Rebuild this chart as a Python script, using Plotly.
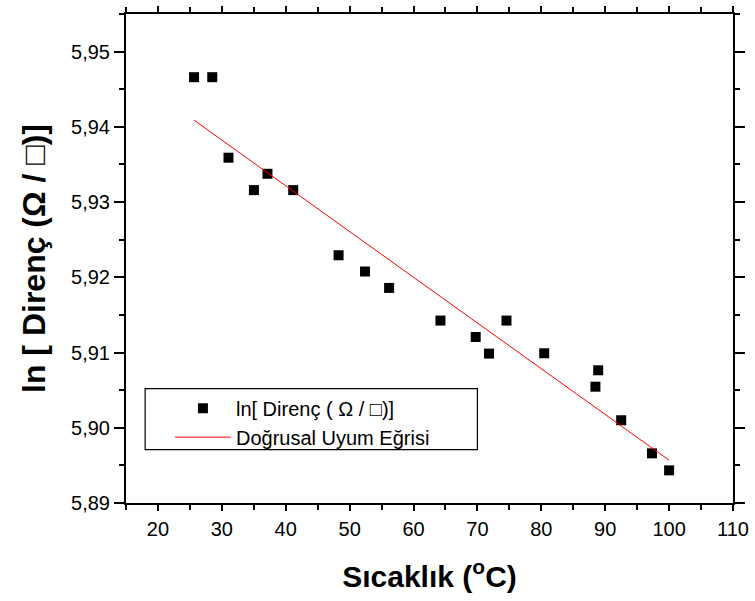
import numpy as np
import plotly.graph_objects as go

# Data
temperature = [25.65, 28.5, 31.04, 35.02, 37.14, 41.17, 48.27, 52.41, 56.18, 64.21,
               69.73, 71.81, 74.55, 80.45, 88.47, 88.9, 92.5, 97.32, 100.0]
ln_resistance = [5.9466, 5.9466, 5.9359, 5.93159, 5.93376, 5.93159, 5.92293, 5.92077,
                 5.91859, 5.91425, 5.91207, 5.90986, 5.91425, 5.9099, 5.90546, 5.90764,
                 5.9010, 5.8966, 5.89434]

series_name = "ln[ Direnç ( Ω / □)]"
fit_name = "Doğrusal Uyum Eğrisi"
x_title = "Sıcaklık (<sup>o</sup>C)"
y_title = "ln [ Direnç (Ω / □)]"

# linear fit
slope, intercept = np.polyfit(temperature, ln_resistance, 1)
fit_x = [min(temperature), max(temperature)]
fit_y = [slope * v + intercept for v in fit_x]

FONT = "Arial, Liberation Sans, sans-serif"

fig = go.Figure()
fig.add_trace(go.Scatter(
    x=temperature, y=ln_resistance, mode="markers", name=series_name,
    marker=dict(symbol="square", size=10, color="black"),
))
fig.add_trace(go.Scatter(
    x=fit_x, y=fit_y, mode="lines", name=fit_name,
    line=dict(color="red", width=1),
))

axis_common = dict(
    showline=True, linecolor="black", linewidth=2, mirror="ticks",
    ticks="outside", tickcolor="black", tickwidth=1.5,
    showgrid=False, zeroline=False,
    tickfont=dict(family=FONT, size=20, color="black"),
)

fig.update_xaxes(
    range=[15, 110], dtick=10, tick0=0, ticklen=6, ticklabelstandoff=1,
    minor=dict(dtick=5, ticklen=5, ticks="outside", tickcolor="black", tickwidth=1.5),
    title=dict(text=x_title, font=dict(family=FONT, size=30, color="black", weight="bold"), standoff=27),
    **axis_common,
)
fig.update_yaxes(
    range=[5.89, 5.955], dtick=0.01, tick0=5.89, tickformat=".2f", ticklen=10,
    minor=dict(dtick=0.005, ticklen=5, ticks="outside", tickcolor="black", tickwidth=1.5),
    title=dict(text=y_title, font=dict(family=FONT, size=32, color="black", weight="bold"), standoff=16),
    **axis_common,
)

# legend box (frame)
fig.add_shape(type="rect", xref="paper", yref="paper",
              x0=(145 - 125.7) / 612, x1=(480 - 125.7) / 612,
              y0=(503.3 - 449) / 497.3, y1=(503.3 - 387) / 497.3,
              line=dict(color="black", width=1.2), fillcolor="white", layer="below")

fig.update_layout(
    width=755, height=601,
    margin=dict(l=126, r=17, t=6, b=98),
    paper_bgcolor="white", plot_bgcolor="white",
    separators=",.",
    showlegend=True,
    legend=dict(
        x=(170 - 125.7) / 612, y=(503.3 - 387) / 497.3, xanchor="left", yanchor="top",
        bgcolor="rgba(0,0,0,0)", borderwidth=0, itemwidth=56,
        font=dict(family=FONT, size=20, color="black"),
    ),
)

fig.write_html("out.html")
